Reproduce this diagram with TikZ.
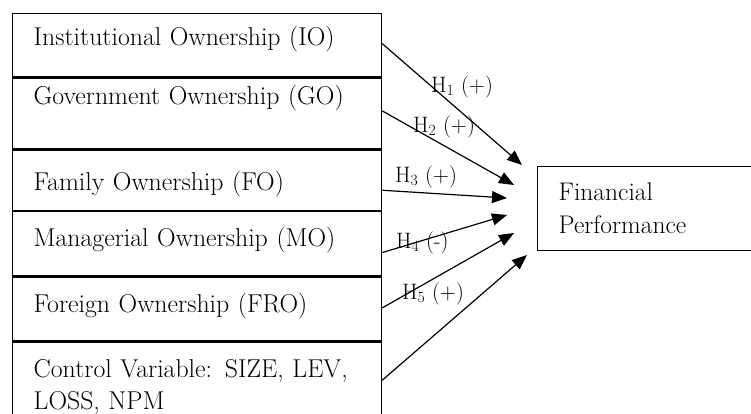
\documentclass[tikz,border=0pt]{standalone}
\usepackage{tikz}
\usetikzlibrary{positioning,calc,arrows.meta}
\tikzstyle{row} = [
  rectangle, draw=black, line width=1.3pt, inner xsep=21pt, inner ysep=0pt,
  text width=327pt, align=left, font=\fontsize{25.8}{32}\selectfont
]
\tikzstyle{outcome} = [rectangle, draw=black, line width=1.3pt, inner xsep=21pt, inner ysep=0pt,
  text width=180pt, align=left, font=\fontsize{25.5}{33}\selectfont]
\tikzstyle{hyp} = [anchor=base west, inner sep=0pt, font=\fontsize{22.3}{26}\selectfont]
\tikzstyle{link} = [line width=1.2pt, -{Triangle[length=15pt,width=12pt]}]

\begin{document}
\begin{tikzpicture}[x=1pt, y=-1pt]
        \clip (0,0) rectangle (751,413);
        % Ownership ------------------------------------------------------------------------------
        \node[row, anchor=north west, text height=32pt, text depth=31pt] (io) at (12,13) {Institutional Ownership (IO)};
        \node[row, below=0pt of io, text height=27pt, text depth=44pt] (go) {Government Ownership (GO)};
        \node[row, below=0pt of go, text height=40pt, text depth=20pt] (fo) {Family Ownership (FO)};
        \node[row, below=0pt of fo, text height=35pt, text depth=29pt] (mo) {Managerial Ownership (MO)};
        \node[row, below=0pt of mo, text height=36pt, text depth=28pt] (fro) {Foreign Ownership (FRO)};
        \node[row, below=0pt of fro, text height=35pt, text depth=55pt] (ctrl) {Control Variable: SIZE, LEV,\\LOSS, NPM};
        % Outcome --------------------------------------------------------------------------------
        \node[outcome, anchor=north west, text height=34pt, text depth=50pt] (fin) at (537,166) {Financial\\Performance};
        % Tips -----------------------------------------------------------------------------------
        \coordinate (t_io) at (522,165);
        \coordinate (t_go) at (514,185);
        \coordinate (t_fo) at (507,198);
        \coordinate (t_mo) at (507,215);
        \coordinate (t_fro) at (514,233);
        \coordinate (t_ctrl) at (527,255);
        % Arrows ---------------------------------------------------------------------------------
        \draw[link] ([yshift=1.5pt]io.east) -- (t_io);
        \draw[link] ([yshift=2.5pt]go.east) -- (t_go);
        \draw[link] ([yshift=-10pt]fo.east) -- (t_fo);
        \draw[link] ([yshift=-9pt]mo.east) -- (t_mo);
        \draw[link] ([yshift=1pt]fro.east) -- (t_fro);
        \draw[link] ([yshift=7pt]ctrl.east) -- (t_ctrl);
        % Labels ---------------------------------------------------------------------------------
        \node[hyp] (h_io) at (431,92) {H\textsubscript{1} (+)};
        \node[hyp] (h_go) at (413,132) {H\textsubscript{2} (+)};
        \node[hyp] (h_fo) at (395,182) {H\textsubscript{3} (+)};
        \node[hyp] (h_mo) at (396,248) {H\textsubscript{4} (-)};
        \node[hyp] (h_fro) at (402,299) {H\textsubscript{5} (+)};
    \end{tikzpicture}
\end{document}
